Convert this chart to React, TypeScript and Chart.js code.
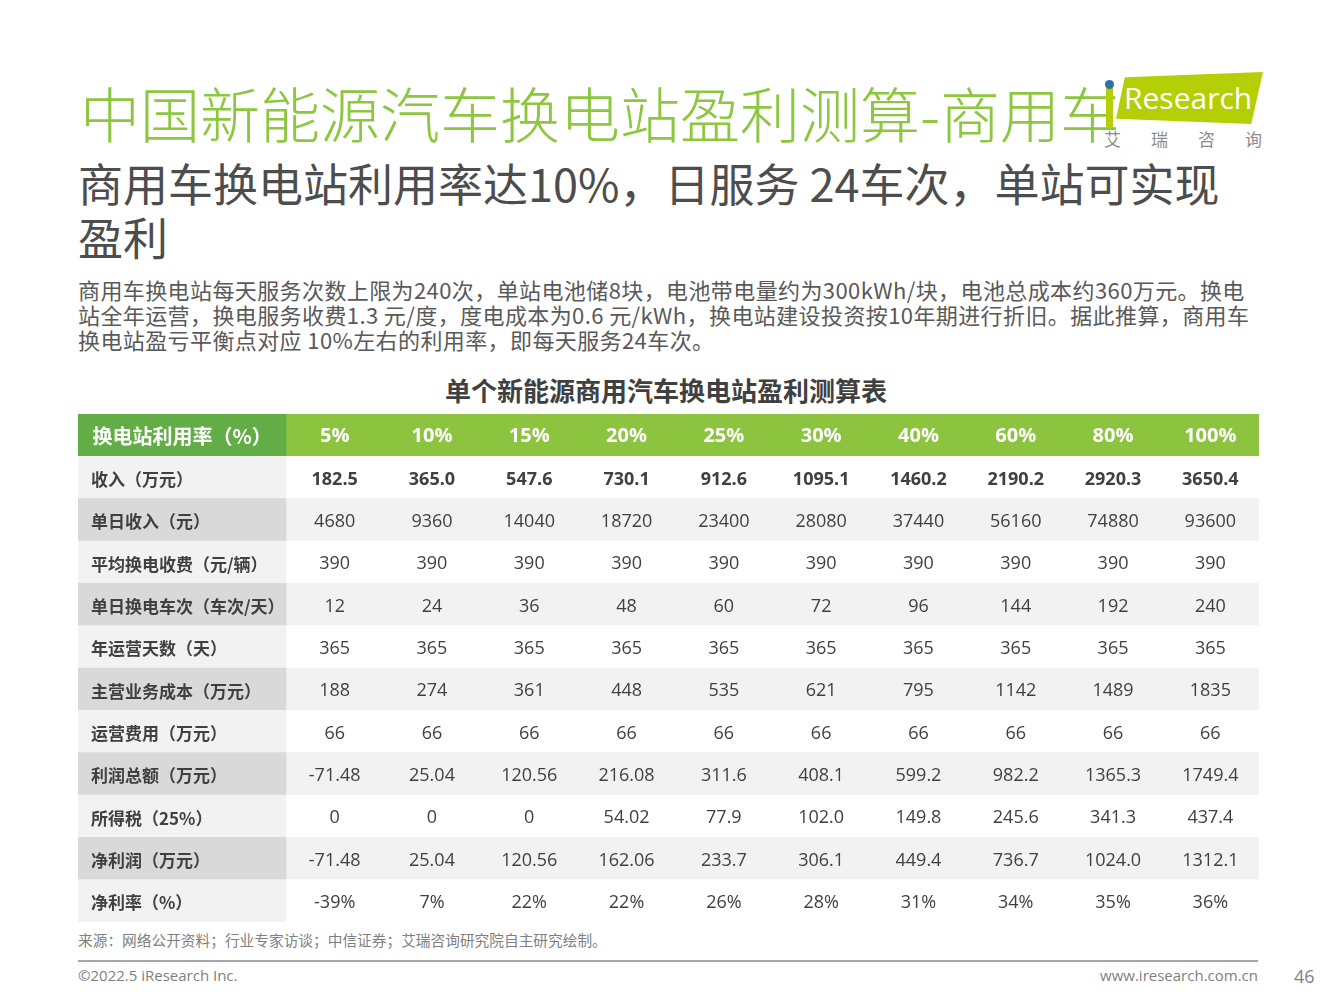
import React, { useEffect, useRef } from "react";
import { Chart, registerables } from "chart.js";

Chart.register(...registerables);

// ---------- data ----------
const headerLabel = "换电站利用率（%）";
const utilization = ["5%", "10%", "15%", "20%", "25%", "30%", "40%", "60%", "80%", "100%"];
const rowLabels = [
  "收入（万元）",
  "单日收入（元）",
  "平均换电收费（元/辆）",
  "单日换电车次（车次/天）",
  "年运营天数（天）",
  "主营业务成本（万元）",
  "运营费用（万元）",
  "利润总额（万元）",
  "所得税（25%）",
  "净利润（万元）",
  "净利率（%）",
];
const revenue = ["182.5", "365.0", "547.6", "730.1", "912.6", "1095.1", "1460.2", "2190.2", "2920.3", "3650.4"];
const dailyRevenue = ["4680", "9360", "14040", "18720", "23400", "28080", "37440", "56160", "74880", "93600"];
const avgFee = ["390", "390", "390", "390", "390", "390", "390", "390", "390", "390"];
const dailyTrips = ["12", "24", "36", "48", "60", "72", "96", "144", "192", "240"];
const operatingDays = ["365", "365", "365", "365", "365", "365", "365", "365", "365", "365"];
const mainCost = ["188", "274", "361", "448", "535", "621", "795", "1142", "1489", "1835"];
const operatingExpense = ["66", "66", "66", "66", "66", "66", "66", "66", "66", "66"];
const totalProfit = ["-71.48", "25.04", "120.56", "216.08", "311.6", "408.1", "599.2", "982.2", "1365.3", "1749.4"];
const incomeTax = ["0", "0", "0", "54.02", "77.9", "102.0", "149.8", "245.6", "341.3", "437.4"];
const netProfit = ["-71.48", "25.04", "120.56", "162.06", "233.7", "306.1", "449.4", "736.7", "1024.0", "1312.1"];
const netMargin = ["-39%", "7%", "22%", "22%", "26%", "28%", "31%", "34%", "35%", "36%"];

const tableRows = [
  revenue,
  dailyRevenue,
  avgFee,
  dailyTrips,
  operatingDays,
  mainCost,
  operatingExpense,
  totalProfit,
  incomeTax,
  netProfit,
  netMargin,
];

// ---------- style ----------
const FONT = "'Open Sans', 'Noto Sans CJK SC', sans-serif";
const CJK = "'Noto Sans CJK SC', sans-serif";
const GREEN = "#8cc43f";
const GREEN_DARK = "#62ad45";
const TEXT = "#404040";
const LABEL_COL_UNITS = 2.138; // first column width relative to one data column
const TEXT_SHIFT = 2; // vertical nudge for text inside cells

function TableChart() {
  const ref = useRef<HTMLCanvasElement | null>(null);
  useEffect(() => {
    if (!ref.current) return;
    const yLabels = [headerLabel, ...rowLabels];
    const labelBg = yLabels.map((_, i) => (i === 0 ? GREEN_DARK : i % 2 === 1 ? "#f2f2f2" : "#d9d9d9"));
    const dataBg = yLabels.map((_, i) => (i === 0 ? GREEN : i % 2 === 1 ? "#ffffff" : "#f2f2f2"));
    const ncol = utilization.length;

    const textPlugin = {
      id: "tableText",
      afterDatasetsDraw(chart: any) {
        const ctx = chart.ctx;
        const x = chart.scales.x;
        const y = chart.scales.y;
        ctx.save();
        ctx.textBaseline = "middle";
        // header row
        const hy = y.getPixelForValue(0) + 1;
        ctx.fillStyle = "#ffffff";
        ctx.font = `bold 20px ${CJK}`;
        ctx.textAlign = "center";
        ctx.fillText(headerLabel, x.getPixelForValue(-LABEL_COL_UNITS / 2), hy);
        ctx.font = `bold 20px ${FONT}`;
        utilization.forEach((u, c) => {
          ctx.fillText(u, x.getPixelForValue(c + 0.5), hy);
        });
        // body rows
        rowLabels.forEach((lab, r) => {
          const py = y.getPixelForValue(r + 1) + TEXT_SHIFT;
          ctx.fillStyle = TEXT;
          ctx.font = `bold 17px ${CJK}`;
          ctx.textAlign = "left";
          ctx.fillText(lab, x.getPixelForValue(-LABEL_COL_UNITS) + 13, py);
          ctx.textAlign = "center";
          ctx.font = r === 0 ? `bold 18px ${FONT}` : `18px ${FONT}`;
          tableRows[r].forEach((v, c) => {
            ctx.fillText(v, x.getPixelForValue(c + 0.5), py);
          });
        });
        ctx.restore();
      },
    };

    const chart = new Chart(ref.current, {
      type: "bar",
      data: {
        labels: yLabels,
        datasets: [
          {
            label: "labelColumn",
            data: yLabels.map(() => [-LABEL_COL_UNITS, 0]) as any,
            backgroundColor: labelBg,
            borderWidth: 0,
            barPercentage: 1,
            categoryPercentage: 1,
            grouped: false,
          } as any,
          {
            label: "dataColumns",
            data: yLabels.map(() => [0, ncol]) as any,
            backgroundColor: dataBg,
            borderWidth: 0,
            barPercentage: 1,
            categoryPercentage: 1,
            grouped: false,
          } as any,
        ],
      },
      options: {
        indexAxis: "y",
        animation: false,
        responsive: false,
        devicePixelRatio: 1,
        events: [],
        layout: { padding: 0 },
        plugins: { legend: { display: false }, tooltip: { enabled: false }, title: { display: false } },
        scales: {
          x: { type: "linear", min: -LABEL_COL_UNITS, max: ncol, display: false, grid: { display: false } },
          y: { type: "category", display: false, grid: { display: false } },
        },
      } as any,
      plugins: [textPlugin],
    });
    return () => chart.destroy();
  }, []);
  return (
    <canvas
      ref={ref}
      width={1181}
      height={508}
      style={{ position: "absolute", left: 78, top: 414, width: 1181, height: 508 }}
    />
  );
}

const abs = (s: React.CSSProperties): React.CSSProperties => ({ position: "absolute", whiteSpace: "nowrap", margin: 0, ...s });

export default function App() {
  return (
    <div style={{ position: "absolute", left: 0, top: 0, width: 1333, height: 1000, background: "#fff", overflow: "hidden", fontFamily: CJK }}>
      {/* title */}
      <div style={abs({ left: 80, top: 70, fontSize: 60, lineHeight: "84px", color: "#8dc63f", fontWeight: 300, fontFamily: CJK })}>
        中国新能源汽车换电站盈利测算-商用车
      </div>
      {/* logo */}
      <div style={abs({ left: 1116, top: 72, width: 147, height: 52, background: "#b5cf06", clipPath: "polygon(6% 10%, 100% 0%, 92% 100%, 0% 90%)" })} />
      <div style={abs({ left: 1106, top: 88, width: 7, height: 40, background: "#b5cf06" })} />
      <div style={abs({ left: 1105, top: 80, width: 9, height: 9, borderRadius: "50%", background: "#2f6db5" })} />
      <div style={abs({ left: 1124, top: 78, fontSize: 30, lineHeight: "40px", color: "#fff", fontFamily: "'Open Sans', sans-serif" })}>Research</div>
      <div style={abs({ left: 1104, top: 128, fontSize: 17, lineHeight: "22px", color: "#8c8c8c", letterSpacing: 30 })}>艾瑞咨询</div>

      {/* subtitle */}
      <div style={abs({ left: 78, top: 156, fontSize: 45, lineHeight: "54px", color: "#4d4d4d", whiteSpace: "normal", width: 1190 })}>
        商用车换电站利用率达10%，日服务 24车次，单站可实现<br />盈利
      </div>
      {/* paragraph */}
      <div style={abs({ left: 78, top: 277, fontSize: 22, lineHeight: "25px", color: "#595959", letterSpacing: 0.4 })}>
        商用车换电站每天服务次数上限为240次，单站电池储8块，电池带电量约为300kWh/块，电池总成本约360万元。换电<br />
        站全年运营，换电服务收费1.3 元/度，度电成本为0.6 元/kWh，换电站建设投资按10年期进行折旧。据此推算，商用车<br />
        换电站盈亏平衡点对应 10%左右的利用率，即每天服务24车次。
      </div>
      {/* table title */}
      <div style={abs({ left: 366, width: 600, textAlign: "center", top: 373, fontSize: 26, lineHeight: "34px", color: TEXT, fontWeight: "bold" })}>
        单个新能源商用汽车换电站盈利测算表
      </div>

      <TableChart />

      {/* footer */}
      <div style={abs({ left: 78, top: 930, fontSize: 14.7, lineHeight: "20px", color: "#7f7f7f" })}>
        来源：网络公开资料；行业专家访谈；中信证券；艾瑞咨询研究院自主研究绘制。
      </div>
      <div style={abs({ left: 78, top: 960, width: 1180, height: 2, background: "#a6a6a6" })} />
      <div style={abs({ left: 78, top: 964, fontSize: 15, lineHeight: "22px", color: "#7f7f7f", fontFamily: FONT })}>©2022.5 iResearch Inc.</div>
      <div style={abs({ left: 958, width: 300, textAlign: "right", top: 964, fontSize: 15, lineHeight: "22px", color: "#7f7f7f", fontFamily: FONT })}>www.iresearch.com.cn</div>
      <div style={abs({ left: 1294, top: 964, fontSize: 18, lineHeight: "24px", color: "#7f7f7f", fontFamily: FONT })}>46</div>
    </div>
  );
}
